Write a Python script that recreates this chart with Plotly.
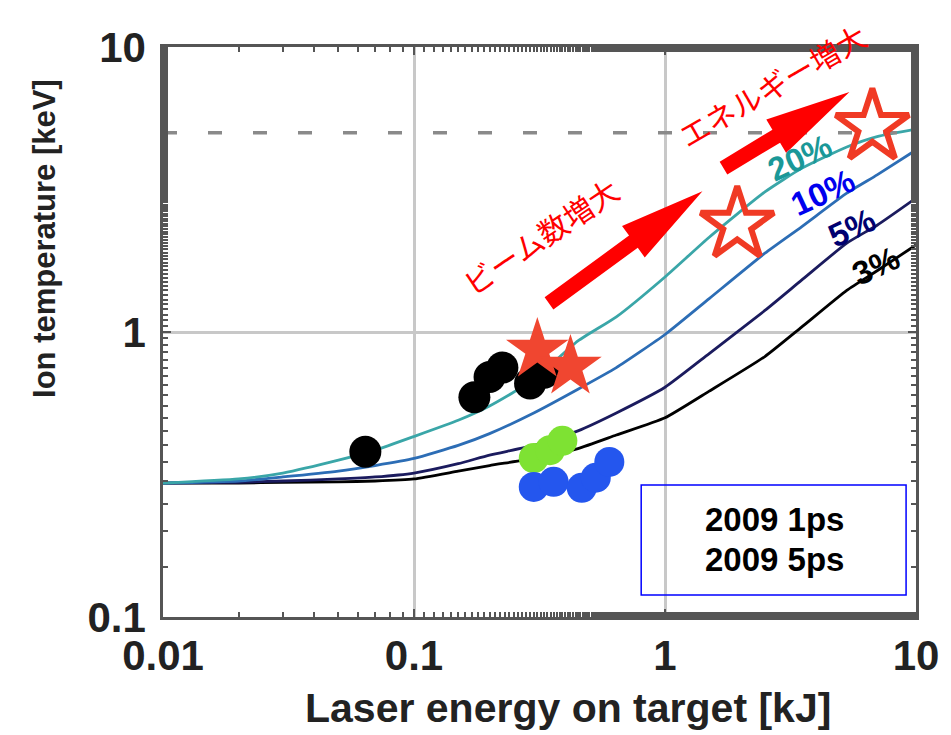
import numpy as np
import plotly.graph_objects as go

# ---------------- data ----------------
ENERGY = [0.01, 0.02, 0.03, 0.05, 0.07, 0.1, 0.15, 0.2, 0.3, 0.45, 0.64, 1, 1.5, 2.5, 3.5, 5.3, 7, 10]
TI_20 = [0.295, 0.305, 0.32, 0.355, 0.385, 0.43, 0.49, 0.55, 0.68, 0.93, 1.13, 1.56, 2.15, 3.1, 3.75, 4.46, 4.85, 5.15]
TI_10 = [0.295, 0.30, 0.31, 0.325, 0.34, 0.36, 0.40, 0.44, 0.52, 0.63, 0.75, 0.98, 1.31, 1.89, 2.34, 3.07, 3.56, 4.35]
TI_5 = [0.295, 0.297, 0.30, 0.305, 0.31, 0.32, 0.345, 0.37, 0.40, 0.45, 0.52, 0.64, 0.84, 1.19, 1.52, 2.05, 2.37, 2.95]
TI_3 = [0.295, 0.295, 0.297, 0.298, 0.30, 0.305, 0.325, 0.34, 0.36, 0.39, 0.435, 0.50, 0.62, 0.82, 1.04, 1.40, 1.64, 2.02]

CURVE_LABELS = ["20%", "10%", "5%", "3%"]
CURVE_LABEL_X = [3.45, 4.25, 5.58, 6.95]
CURVE_LABEL_Y = [4.08, 3.08, 2.33, 1.71]

BLACK_X = [0.064, 0.174, 0.20, 0.225, 0.29, 0.33]
BLACK_Y = [0.38, 0.59, 0.695, 0.75, 0.66, 0.72]
GREEN_X = [0.30, 0.348, 0.39]
GREEN_Y = [0.361, 0.385, 0.415]
BLUE_X = [0.30, 0.36, 0.466, 0.53, 0.60]
BLUE_Y = [0.286, 0.298, 0.284, 0.308, 0.35]
STAR_X = [0.31, 0.42]
STAR_Y = [0.865, 0.754]
OPEN_STAR_X = [1.94, 6.7]
OPEN_STAR_Y = [2.38, 5.24]

TARGET_TI = 5.0

ARROW_TAIL = [(0.345, 1.26), (1.71, 3.76)]
ARROW_TIP = [(1.41, 3.12), (5.43, 6.95)]
ARROW_TEXT = ["ビーム数増大", "エネルギー増大"]
ARROW_TEXT_X = [0.318, 2.67]
ARROW_TEXT_Y = [2.17, 7.36]
ARROW_TEXT_ANGLE = [-34, -30]

X_TICKS = [0.01, 0.1, 1, 10]
X_TICKTEXT = ["0.01", "0.1", "1", "10"]
Y_TICKS = [0.1, 1, 10]
Y_TICKTEXT = ["0.1", "1", "10"]

LEGEND_LINES = ["2009 1ps", "2009 5ps"]

# ---------------- layout geometry ----------------
W, H = 951, 735
ML, MR, MT, MB = 163, 29, 47, 118
PLOT_W = W - ML - MR
PLOT_H = H - MT - MB
PX_X = PLOT_W / 3.0   # pixels per decade
PX_Y = PLOT_H / 2.0


def px_to_paper_x(px):
    return (px - ML) / PLOT_W


def px_to_paper_y(py):
    return (H - MB - py) / PLOT_H


fig = go.Figure()

curve_colors = ["#3aa6a8", "#2c6db5", "#1b1b5e", "#000000"]
label_colors = ["#1a9898", "#0000ee", "#000070", "#000000"]
for ys, c in zip([TI_3, TI_5, TI_10, TI_20], curve_colors[::-1]):
    fig.add_trace(go.Scatter(x=ENERGY, y=ys, mode="lines",
                             line=dict(color=c, width=2.8, shape="spline", smoothing=0.5),
                             hoverinfo="skip"))

# dashed target line
fig.add_trace(go.Scatter(x=[ENERGY[0], ENERGY[-1]], y=[TARGET_TI, TARGET_TI], mode="lines",
                         line=dict(color="#8a8a8a", width=3.5, dash="14px,31px"), hoverinfo="skip"))

fig.add_trace(go.Scatter(x=BLACK_X, y=BLACK_Y, mode="markers",
                         marker=dict(symbol="circle", size=32, color="#000000", line=dict(width=0))))
fig.add_trace(go.Scatter(x=GREEN_X, y=GREEN_Y, mode="markers",
                         marker=dict(symbol="circle", size=30, color="#7ee233", line=dict(width=0))))
fig.add_trace(go.Scatter(x=BLUE_X, y=BLUE_Y, mode="markers",
                         marker=dict(symbol="circle", size=30, color="#2456ee", line=dict(width=0))))
fig.add_trace(go.Scatter(x=STAR_X, y=STAR_Y, mode="markers",
                         marker=dict(symbol="star", size=47, color="#f04630", line=dict(width=0))))
fig.add_trace(go.Scatter(x=OPEN_STAR_X, y=OPEN_STAR_Y, mode="markers",
                         marker=dict(symbol="star-open", size=55, color="#f03a24",
                                     line=dict(width=6, color="#f03a24"))))


def arrow_polygon(tail, tip, shaft=15.0, head_w=39.0, head_len=86.0):
    tx, ty = np.log10(tail[0]), np.log10(tail[1])
    hx, hy = np.log10(tip[0]), np.log10(tip[1])
    dx, dy = (hx - tx) * PX_X, (hy - ty) * PX_Y
    L = np.hypot(dx, dy)
    ux, uy = dx / L, dy / L
    nx, ny = -uy, ux
    w, h = shaft / 2.0, head_w / 2.0
    pts = [(-L * ux + w * nx, -L * uy + w * ny),
           (-head_len * ux + w * nx, -head_len * uy + w * ny),
           (-head_len * ux + h * nx, -head_len * uy + h * ny),
           (0.0, 0.0),
           (-head_len * ux - h * nx, -head_len * uy - h * ny),
           (-head_len * ux - w * nx, -head_len * uy - w * ny),
           (-L * ux - w * nx, -L * uy - w * ny)]
    pts.append(pts[0])
    xs = [10 ** (hx + p[0] / PX_X) for p in pts]
    ys = [10 ** (hy + p[1] / PX_Y) for p in pts]
    return xs, ys


for tail, tip in zip(ARROW_TAIL, ARROW_TIP):
    ax_, ay_ = arrow_polygon(tail, tip)
    fig.add_trace(go.Scatter(x=ax_, y=ay_, mode="lines", fill="toself", fillcolor="#ff0000",
                             line=dict(width=0, color="#ff0000"), hoverinfo="skip"))

annotations = []
for t, x, y, c in zip(CURVE_LABELS, CURVE_LABEL_X, CURVE_LABEL_Y, label_colors):
    annotations.append(dict(x=np.log10(x), y=np.log10(y), xref="x", yref="y", text="<b>%s</b>" % t,
                            showarrow=False, textangle=-25, xanchor="center", yanchor="middle",
                            font=dict(family="Liberation Sans, Arial", size=33, color=c)))
for t, x, y, a in zip(ARROW_TEXT, ARROW_TEXT_X, ARROW_TEXT_Y, ARROW_TEXT_ANGLE):
    annotations.append(dict(x=np.log10(x), y=np.log10(y), xref="x", yref="y", text=t,
                            showarrow=False, textangle=a, xanchor="center", yanchor="middle",
                            font=dict(family="Noto Sans CJK JP", size=30, color="#ff0000")))

# legend-like text box
box_px = (645, 912, 485, 595)
fig.add_shape(type="rect", xref="paper", yref="paper",
              x0=px_to_paper_x(box_px[0]), x1=px_to_paper_x(box_px[1]),
              y0=px_to_paper_y(box_px[3]), y1=px_to_paper_y(box_px[2]),
              line=dict(color="#0000ff", width=1.5), fillcolor="rgba(255,255,255,0)")
for i, t in enumerate(LEGEND_LINES):
    ypix = 519 + 40 * i
    annotations.append(dict(x=px_to_paper_x(779), y=px_to_paper_y(ypix), xref="paper", yref="paper",
                            text="<b>%s</b>" % t, showarrow=False, xanchor="center", yanchor="middle",
                            font=dict(family="Liberation Sans, Arial", size=33, color="#000000")))

# axis titles
annotations.append(dict(x=px_to_paper_x(571), y=px_to_paper_y(708), xref="paper", yref="paper",
                        text="<b>Laser energy on target [kJ]</b>", showarrow=False,
                        xanchor="center", yanchor="middle",
                        font=dict(family="Liberation Sans, Arial", size=41, color="#222222")))
annotations.append(dict(x=px_to_paper_x(43), y=px_to_paper_y(238), xref="paper", yref="paper",
                        text="<b>Ion temperature [keV]</b>", showarrow=False, textangle=-90,
                        xanchor="center", yanchor="middle",
                        font=dict(family="Liberation Sans, Arial", size=31, color="#222222")))

axis_common = dict(type="log", showgrid=True, gridcolor="#c8c8c8", gridwidth=3,
                   showline=True, linecolor="#555555", linewidth=2.5, mirror="ticks",
                   ticks="inside", ticklen=8, tickwidth=2, tickcolor="#555555",
                   minor=dict(ticks="inside", ticklen=5, tickwidth=2, tickcolor="#555555", showgrid=False),
                   zeroline=False,
                   tickfont=dict(family="Liberation Sans, Arial", size=42, color="#222222"))

fig.update_layout(
    width=W, height=H, autosize=False,
    margin=dict(l=ML, r=MR, t=MT, b=MB),
    paper_bgcolor="white", plot_bgcolor="white",
    showlegend=False,
    xaxis=dict(range=[-2, 1], tickvals=X_TICKS, ticktext=["<b>%s</b>" % s for s in X_TICKTEXT],
               ticklabelstandoff=0, **axis_common),
    yaxis=dict(range=[-1, 1], tickvals=Y_TICKS, ticktext=["<b>%s</b>" % s for s in Y_TICKTEXT],
               ticklabelstandoff=6, **axis_common),
    annotations=annotations,
)

fig.write_html("out.html")
